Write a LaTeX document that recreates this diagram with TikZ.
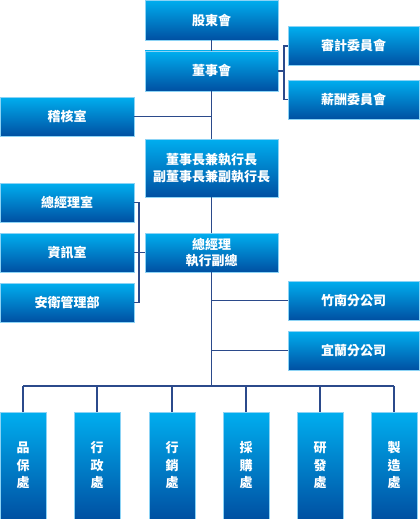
\documentclass[tikz,border=0pt]{standalone}
\usepackage{fontspec}
\newfontfamily\cjk{Noto Sans CJK TC}
\definecolor{topc}{HTML}{00AEEF}
\definecolor{botc}{HTML}{0050A2}
\definecolor{edgec}{HTML}{8CD3F5}
\definecolor{linec}{HTML}{2B4A8B}
\tikzset{
  box/.style={rectangle, top color=topc, bottom color=botc, draw=edgec, line width=0.5pt,
    text=white, font=\cjk\bfseries\fontsize{13}{16.5}\selectfont, align=center, inner sep=0pt,
    minimum width=133pt, minimum height=39pt},
  vbox/.style={box, minimum width=46pt, minimum height=107pt, font=\cjk\bfseries\fontsize{13}{17.5}\selectfont},
  conn/.style={draw=linec, line width=1.8pt}
}
\begin{document}
\begin{tikzpicture}[x=1pt,y=-1pt]
\useasboundingbox (0,0) rectangle (420,519);
% main column
\node[box, minimum height=40pt] (sh) at (211.5,20) {股東會};
\node[box, minimum height=40pt] (bd) at (211.5,71) {董事會};
\node[box, minimum height=58pt] (ch) at (211.5,168) {董事長兼執行長\\副董事長兼副執行長};
\node[box] (gm) at (211.5,252.5) {總經理\\執行副總};
% committees
\node[box, minimum width=131pt] (au) at (353.5,46) {審計委員會};
\node[box, minimum width=131pt] (pay) at (353.5,99.5) {薪酬委員會};
% left side
\node[box, minimum width=134pt] (aud) at (67,116.5) {稽核室};
\node[box, minimum width=134pt] (gmo) at (67,202.5) {總經理室};
\node[box, minimum width=134pt] (it) at (67,252.5) {資訊室};
\node[box, minimum width=134pt] (safe) at (67,302.5) {安衛管理部};
% branches
\node[box, minimum width=131pt] (zn) at (353.5,300.5) {竹南分公司};
\node[box, minimum width=131pt] (yl) at (353.5,350.5) {宜蘭分公司};
% departments
\node[vbox] (d1) at (23,465.5) {品\\保\\處};
\node[vbox] (d2) at (97,465.5) {行\\政\\處};
\node[vbox] (d3) at (172,465.5) {行\\銷\\處};
\node[vbox] (d4) at (246,465.5) {採\\購\\處};
\node[vbox] (d5) at (320,465.5) {研\\發\\處};
\node[vbox] (d6) at (394,465.5) {製\\造\\處};
% coordinates
\coordinate (cb) at (284,71);
\coordinate (lb) at (139,252.5);
\coordinate (bus) at (211.5,386);
% connectors
\path[conn] (sh.south) -- (bd.north);
\path[conn] (bd.south) -- (ch.north);
\path[conn] (ch.south) -- (gm.north);
\path[conn] (gm.south) -- (bus);
\path[conn] (bd.east) -- (cb);
\path[conn] (au.west) -| (cb) |- (pay.west);
\path[conn] (aud.east) -- (aud.east -| bd.south);
\path[conn] (gmo.east) -| (lb) |- (safe.east);
\path[conn] (it.east) -- (gm.west);
\path[conn] (zn.west) -- (zn.west -| gm.south);
\path[conn] (yl.west) -- (yl.west -| gm.south);
\path[conn] (d1.north |- bus) -- (d6.north |- bus);
\foreach \d in {d1,d2,d3,d4,d5,d6} { \path[conn] (\d.north) -- (\d.north |- bus); }
\end{tikzpicture}
\end{document}
